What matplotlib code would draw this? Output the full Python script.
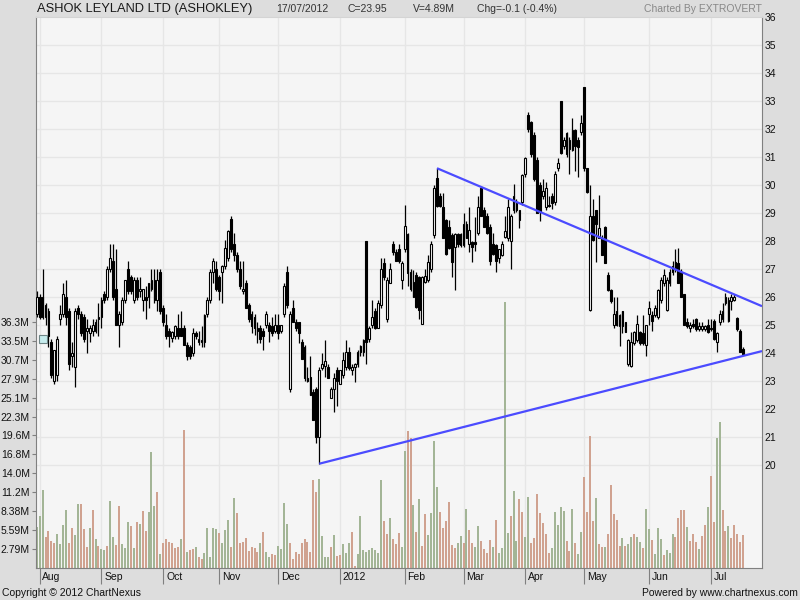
import matplotlib
matplotlib.use('Agg')
import numpy as np
import pandas as pd
import matplotlib.pyplot as plt
import matplotlib.transforms as mtrans
from matplotlib.patches import Rectangle

plt.rcParams['font.family'] = ['Liberation Sans', 'DejaVu Sans']  # arial-like look of the original

# ---- data ----
# NSE holidays inside the window, weekdays otherwise
holidays = ['2011-08-15', '2011-08-31', '2011-09-01', '2011-10-06', '2011-10-27', '2011-11-07',
            '2011-11-10', '2011-12-06', '2012-02-20', '2012-03-08', '2012-04-06', '2012-05-01']

opens = [25.4, 26.0, 26.0, 25.7, 25.5, 24.4, 23.0, 23.2, 25.2, 25.4,
         26.0, 25.5, 23.9, 23.5, 25.6, 25.4, 25.3, 24.8, 24.7, 24.8,
         25.1, 25.2, 25.3, 26.1, 26.0, 27.0, 27.3, 26.3, 25.0, 25.1,
         25.9, 27.0, 26.7, 25.9, 26.6, 26.2, 25.9, 26.0, 26.0, 26.3,
         26.6, 25.9, 26.9, 25.6, 25.0, 24.8, 24.55, 24.6, 24.9, 24.9,
         24.9, 24.3, 24.2, 24.0, 24.7, 24.4, 24.4, 24.4, 25.4, 25.9,
         26.9, 27.0, 26.7, 26.9, 27.1, 27.4, 28.8, 27.9, 27.5, 27.0,
         26.2, 26.5, 25.7, 25.4, 25.3, 24.9, 24.9, 24.8, 25.0, 25.0,
         24.95, 24.8, 25.0, 24.8, 25.4, 26.9, 22.7, 25.6, 25.1, 25.1,
         24.4, 24.2, 23.1, 23.15, 22.6, 22.7, 21.0, 23.45, 23.55, 23.5,
         22.4, 22.7, 23.4, 22.9, 23.2, 23.5, 24.05, 23.4, 23.5, 23.6,
         24.25, 24.05, 28.0, 24.5, 25.0, 25.5, 24.9, 25.7, 27.2, 25.2,
         26.5, 27.9, 27.6, 27.7, 26.6, 27.7, 28.25, 26.9, 26.55, 26.8,
         26.7, 25.05, 26.55, 26.6, 27.0, 28.2, 30.25, 29.6, 29.2, 28.75,
         28.5, 28.2, 27.8, 28.25, 28.25, 27.85, 28.6, 27.9, 27.95, 27.95,
         28.3, 29.9, 29.1, 28.9, 28.5, 27.9, 27.85, 27.4, 27.5, 28.15,
         28.1, 28.0, 29.1, 29.4, 28.75, 29.4, 30.4, 32.5, 32.25, 31.8,
         30.9, 30.0, 29.6, 29.2, 29.3, 29.6, 29.4, 30.6, 33.0, 31.4,
         31.85, 31.6, 31.25, 31.95, 31.6, 31.9, 33.5, 30.6, 25.55, 28.9,
         29.1, 28.1, 28.1, 28.5, 26.8, 26.25, 25.0, 25.5, 24.95, 25.5,
         25.1, 23.6, 23.55, 24.35, 24.45, 24.75, 24.7, 24.3, 25.4, 25.35,
         25.35, 25.3, 25.9, 26.5, 25.55, 26.5, 26.9, 27.25, 27.2, 26.9,
         26.1, 25.1, 24.9, 25.05, 25.2, 24.85, 24.85, 24.85, 25.0, 24.85,
         25.15, 24.4, 25.1, 25.2, 25.8, 25.15, 25.85, 25.9, 25.25, 24.8,
         24.15]
highs = [26.2, 26.1, 27.0, 25.8, 25.6, 24.5, 24.1, 24.6, 25.7, 26.5,
         26.6, 25.6, 24.4, 25.6, 25.7, 25.5, 25.4, 25.2, 25.0, 25.2,
         25.2, 25.8, 26.0, 26.2, 27.1, 27.9, 27.9, 27.7, 25.5, 26.0,
         26.6, 27.3, 26.8, 26.7, 26.7, 26.7, 26.3, 26.4, 26.5, 27.0,
         27.0, 27.0, 27.0, 25.7, 25.4, 24.9, 24.8, 25.0, 25.4, 25.5,
         25.0, 24.4, 24.3, 24.9, 24.8, 24.8, 24.95, 25.4, 26.0, 27.0,
         27.4, 27.3, 26.8, 27.15, 28.05, 28.4, 28.9, 28.3, 27.6, 27.3,
         27.3, 26.6, 25.8, 25.5, 25.4, 25.1, 25.0, 24.9, 25.5, 25.1,
         25.3, 25.4, 25.4, 25.0, 26.5, 27.1, 25.5, 25.9, 25.2, 25.1,
         24.5, 24.3, 23.5, 23.9, 22.7, 22.8, 23.5, 24.0, 24.45, 23.6,
         22.8, 23.3, 23.5, 23.4, 24.05, 24.45, 24.2, 23.6, 23.65, 24.1,
         24.3, 24.5, 28.0, 24.95, 25.9, 25.6, 25.9, 27.4, 27.4, 26.7,
         27.2, 28.0, 27.7, 27.9, 27.3, 29.3, 28.3, 27.0, 26.95, 26.9,
         26.75, 26.75, 27.0, 27.5, 28.0, 30.0, 30.6, 29.7, 29.7, 28.8,
         28.75, 28.3, 28.3, 28.3, 28.3, 29.0, 28.7, 29.2, 28.0, 28.85,
         29.6, 29.95, 29.2, 29.0, 28.6, 28.3, 27.9, 27.7, 28.0, 28.9,
         29.5, 28.95, 30.05, 29.5, 29.1, 30.4, 31.0, 32.6, 32.3, 31.9,
         31.0, 30.1, 30.2, 30.1, 29.6, 29.7, 30.5, 30.95, 33.0, 31.7,
         31.9, 31.7, 32.4, 32.0, 31.7, 32.5, 33.5, 30.6, 30.0, 29.5,
         29.1, 29.65, 28.2, 28.55, 26.9, 26.3, 26.0, 26.0, 25.4, 25.5,
         25.1, 24.5, 24.75, 24.8, 25.35, 24.8, 25.35, 25.0, 25.85, 25.5,
         25.7, 26.3, 26.7, 27.0, 26.7, 27.0, 27.3, 27.7, 27.75, 27.0,
         26.1, 25.25, 25.1, 25.2, 25.25, 25.1, 25.1, 25.0, 25.2, 25.2,
         25.2, 24.75, 25.55, 25.8, 26.15, 26.0, 26.1, 26.1, 25.3, 24.85,
         24.2]
lows = [25.3, 25.2, 25.2, 25.0, 24.2, 23.1, 22.9, 23.0, 25.0, 25.3,
        25.0, 23.4, 23.5, 22.8, 25.2, 24.6, 24.4, 24.0, 24.4, 24.6,
        24.7, 24.6, 24.9, 25.8, 25.9, 26.9, 25.9, 25.0, 24.2, 25.0,
        25.8, 26.1, 26.1, 25.8, 25.9, 26.0, 25.5, 25.2, 25.6, 26.2,
        25.8, 25.5, 25.4, 24.95, 24.5, 24.2, 24.4, 24.5, 24.5, 24.6,
        24.3, 23.76, 23.8, 23.9, 24.5, 24.3, 24.2, 24.2, 25.3, 25.8,
        26.5, 26.2, 25.9, 25.8, 27.0, 27.3, 27.6, 27.3, 26.9, 26.3,
        26.1, 25.6, 25.1, 24.7, 24.65, 24.35, 24.36, 24.1, 24.9, 24.4,
        24.6, 24.7, 24.5, 24.7, 25.3, 25.6, 22.6, 25.1, 24.8, 24.35,
        23.8, 23.0, 22.98, 22.5, 21.6, 20.8, 20.05, 23.4, 23.15, 23.1,
        22.4, 21.9, 22.1, 22.9, 23.1, 23.4, 23.4, 23.2, 22.95, 23.5,
        23.9, 23.9, 23.6, 24.4, 24.9, 24.85, 24.9, 25.6, 26.6, 25.1,
        26.5, 27.5, 27.3, 27.2, 26.3, 27.6, 26.4, 26.2, 26.0, 25.6,
        25.2, 25.05, 26.5, 26.55, 26.9, 28.1, 29.2, 29.2, 28.1, 27.5,
        27.7, 26.7, 26.25, 27.8, 27.8, 27.8, 28.1, 27.6, 27.25, 27.65,
        28.2, 28.9, 28.5, 28.25, 27.15, 27.5, 26.9, 27.2, 27.45, 28.1,
        28.0, 27.0, 29.0, 29.05, 28.45, 29.3, 30.3, 31.9, 31.0, 30.15,
        29.0, 28.7, 29.5, 29.1, 29.2, 29.15, 29.3, 30.5, 31.1, 31.3,
        31.0, 30.4, 31.2, 30.5, 30.3, 31.8, 30.5, 29.7, 25.5, 28.0,
        27.25, 28.1, 27.5, 27.2, 26.2, 25.8, 24.9, 24.95, 24.25, 24.7,
        24.75, 23.55, 23.5, 24.3, 24.4, 24.3, 24.3, 23.9, 25.0, 24.8,
        25.3, 25.2, 25.8, 26.4, 25.5, 26.4, 26.8, 26.9, 26.5, 26.0,
        25.0, 24.9, 24.77, 24.9, 24.8, 24.8, 24.8, 24.8, 24.7, 24.8,
        24.45, 24.05, 25.0, 25.1, 25.7, 25.1, 25.55, 25.85, 24.8, 24.05,
        23.95]
closes = [26.0, 25.3, 25.3, 25.3, 24.6, 23.2, 24.1, 24.5, 25.4, 26.1,
          25.3, 23.6, 24.0, 25.5, 25.4, 24.7, 24.5, 24.9, 24.9, 25.0,
          24.8, 25.3, 25.9, 25.9, 27.0, 27.4, 26.0, 25.0, 25.4, 25.9,
          26.6, 26.2, 26.2, 26.6, 26.0, 26.3, 26.3, 25.9, 26.5, 26.6,
          25.9, 26.6, 25.5, 25.1, 24.6, 24.6, 24.75, 24.95, 24.6, 24.6,
          24.3, 23.9, 23.9, 24.7, 24.6, 24.5, 24.45, 25.35, 25.9, 26.9,
          27.3, 26.3, 26.2, 27.1, 27.75, 28.35, 27.7, 27.5, 27.0, 26.4,
          26.3, 25.6, 25.2, 24.95, 24.9, 24.8, 24.5, 24.6, 25.4, 24.8,
          24.7, 25.0, 24.7, 25.0, 26.4, 25.7, 25.4, 25.1, 24.9, 24.7,
          23.8, 23.1, 23.0, 22.5, 21.6, 21.0, 23.4, 23.6, 23.7, 23.1,
          22.7, 23.1, 23.0, 23.4, 23.75, 24.05, 23.45, 23.5, 23.6, 24.05,
          24.05, 24.45, 24.4, 24.9, 25.3, 24.9, 25.8, 27.0, 26.7, 26.6,
          27.0, 27.6, 27.3, 27.3, 27.2, 28.55, 26.85, 26.3, 26.0, 25.65,
          25.55, 26.7, 26.75, 27.25, 27.9, 29.9, 29.25, 29.25, 28.1, 27.55,
          27.75, 27.25, 28.25, 27.9, 27.85, 28.6, 28.1, 28.4, 27.8, 27.9,
          29.2, 28.9, 28.5, 28.3, 27.3, 27.55, 27.3, 27.7, 27.9, 28.35,
          29.2, 28.9, 29.6, 29.1, 29.1, 30.35, 30.95, 32.0, 31.1, 30.2,
          29.0, 29.05, 29.8, 29.9, 29.25, 29.35, 30.4, 30.8, 31.15, 31.6,
          31.1, 31.3, 31.95, 31.4, 31.35, 32.2, 30.6, 29.75, 28.9, 28.05,
          28.6, 28.45, 27.5, 27.2, 26.25, 25.85, 25.4, 25.0, 25.35, 24.95,
          24.76, 24.45, 24.4, 24.75, 25.05, 24.35, 24.35, 25.0, 25.6, 25.15,
          25.6, 26.25, 26.6, 26.8, 26.6, 26.9, 27.1, 27.0, 26.5, 26.0,
          25.0, 24.95, 25.0, 24.95, 24.85, 24.95, 24.95, 24.95, 24.75, 24.9,
          24.5, 24.7, 25.4, 25.5, 26.0, 25.9, 26.0, 26.0, 24.85, 24.05,
          23.95]
# volume in millions of shares
volumes = [6.1, 7.6, 11.5, 4.6, 5.4, 4.0, 3.7, 5.0, 3.6, 6.3,
           8.6, 3.7, 5.9, 4.9, 9.4, 9.4, 5.8, 3.1, 5.9, 8.6,
           4.2, 3.2, 2.8, 2.7, 3.2, 9.8, 4.5, 3.4, 9.2, 3.5,
           2.9, 6.8, 6.2, 2.9, 6.8, 6.5, 8.4, 5.5, 8.3, 17.1,
           9.2, 11.2, 2.07, 3.74, 4.23, 3.89, 3.74, 2.9, 3.15, 4.33,
           20.3, 2.41, 2.66, 2.85, 3.1, 1.67, 1.38, 2.26, 5.85, 1.67,
           5.85, 5.76, 5.12, 3.74, 5.61, 7.08, 3.15, 10.3, 8.1, 3.74,
           3.89, 4.43, 2.56, 3.05, 2.9, 2.41, 3.74, 5.31, 2.41, 1.62,
           2.07, 1.97, 3.3, 2.8, 9.64, 6.49, 3.74, 1.28, 2.41, 2.07,
           3.64, 4.33, 3.84, 2.41, 13.0, 11.27, 13.1, 4.72, 1.67, 1.67,
           3.15, 4.87, 1.77, 1.97, 3.54, 2.16, 3.64, 5.31, 0.3, 2.07,
           7.68, 2.66, 2.41, 2.66, 2.95, 2.66, 2.16, 13.0, 6.99, 5.02,
           7.38, 4.33, 3.54, 5.12, 3.05, 17.2, 20.2, 19.1, 9.3, 5.36,
           10.1, 3.25, 7.97, 4.87, 8.07, 18.7, 12.0, 8.27, 5.95, 6.94,
           9.74, 3.35, 2.95, 3.74, 4.72, 3.64, 8.71, 5.61, 3.64, 3.15,
           6.2, 3.99, 2.85, 2.16, 4.13, 3.15, 7.08, 2.26, 2.9, 39.2,
           5.22, 7.68, 11.4, 3.99, 10.2, 8.27, 4.58, 10.5, 3.64, 4.38,
           10.9, 8.17, 6.69, 5.02, 2.16, 3.0, 8.27, 6.4, 9.05, 8.46,
           3.94, 2.56, 8.71, 3.64, 2.07, 5.31, 13.4, 8.31, 19.5, 6.99,
           10.3, 3.54, 3.15, 3.15, 5.02, 12.3, 7.97, 7.08, 3.25, 4.43,
           3.3, 3.49, 4.62, 5.02, 4.62, 3.89, 2.95, 8.66, 5.71, 4.13,
           2.07, 5.85, 4.23, 1.87, 2.66, 2.26, 5.02, 4.53, 7.33, 8.56,
           8.56, 6.0, 3.99, 4.97, 3.89, 2.76, 4.72, 6.35, 8.95, 13.5,
           6.79, 19.1, 21.5, 8.56, 5.46, 6.2, 4.38, 6.3, 4.97, 3.89,
           4.89]
# g = up day, r = down day, as coloured on the volume bars
day_dir = ('gggrrrrggggrrggrrrgrgrggrggrrgggrgrgrrgggr'
           'grrrrrrgrgrrgrrgggggrgggrgrrrrrrrrgrggrrgg'
           'ggrrrrrrrrrrggggrgrrgggrrgggggggggrrgrrrg'
           'grrgrgrrggggrrrrrrggrgrrggrrrrgrggggrggrrg'
           'grrrrrrrgggggrrgrggrrrrgrrgrrrrrgrggrggrg'
           'grgggrgggrrrrgrrrgrrgrrggrrgrrrrr')

vol_tick_values = [2.79, 5.59, 8.38, 11.2, 14.0, 16.8, 19.6, 22.3, 25.1, 27.9, 30.7, 33.5, 36.3]
vol_tick_labels = ['2.79M', '5.59M', '8.38M', '11.2M', '14.0M', '16.8M', '19.6M',
                   '22.3M', '25.1M', '27.9M', '30.7M', '33.5M', '36.3M']
price_ticks = list(range(20, 37))
month_labels = ['Aug', 'Sep', 'Oct', 'Nov', 'Dec', '2012', 'Feb', 'Mar', 'Apr', 'May', 'Jun', 'Jul']

# hand drawn trendlines: two anchor points each, extended to the right edge
trend_upper = (['2012-02-16', '2012-07-17'], [30.6, 25.96])
trend_lower = (['2011-12-22', '2012-07-17'], [20.05, 23.90])

header = ['17/07/2012', 'C=23.95', 'V=4.89M', 'Chg=-0.1 (-0.4%)']

BG = '#dddddd'
PANEL = '#f5f5f5'
GRID = '#e6e6e6'
UP_VOL = '#a3b596'
DN_VOL = '#d0a290'
TREND = '#4b4bff'


def trading_days() -> pd.DatetimeIndex:
    d = pd.bdate_range('2011-07-29', '2012-07-17')
    return d[~d.isin(pd.to_datetime(holidays))]


def main():
    dates = trading_days()
    n = len(dates)
    x = np.arange(n)
    o, h, l, c = map(np.asarray, (opens, highs, lows, closes))
    vol = np.asarray(volumes)

    month = dates.to_period('M')
    month_idx = [i for i in range(1, n) if month[i] != month[i - 1]]

    fig = plt.figure(figsize=(8, 6), dpi=100, facecolor=BG)
    rect = [35.5 / 800, 1 - 567.9 / 600, (762 - 35.5) / 800, (567.9 - 17) / 600]
    axv = fig.add_axes(rect, facecolor=PANEL)
    ax = fig.add_axes(rect, sharex=axv)
    ax.patch.set_visible(False)

    xlim = (-0.4, 246.4)
    axv.set_xlim(*xlim)
    axv.set_ylim(0, 81.3)
    ax.set_ylim(16.33, 36.0)

    # grid: price levels + month starts, under the volume bars
    price_tr = mtrans.blended_transform_factory(axv.transAxes, ax.transData)
    axv.hlines(price_ticks[:-1], 0, 1, transform=price_tr, color=GRID, lw=1, zorder=0)
    axv.vlines(month_idx, 0, 1, transform=axv.get_xaxis_transform(), color=GRID, lw=1, zorder=0)

    # volume
    vcol = [UP_VOL if d == 'g' else DN_VOL for d in day_dir]
    axv.bar(x, vol, width=0.68, color=vcol, linewidth=0, zorder=2)

    # candles
    ax.vlines(x, l, h, color='black', lw=0.9, zorder=3)
    body_lo = np.minimum(o, c)
    body_h = np.maximum(np.abs(c - o), 0.04)
    face = ['white' if cc >= oo else 'black' for oo, cc in zip(o, c)]
    ax.bar(x, body_h, bottom=body_lo, width=0.62, color=face, edgecolor='black',
           linewidth=0.8, zorder=4)

    # trendlines
    for tdates, tprices in (trend_upper, trend_lower):
        xi = [dates.get_loc(pd.Timestamp(d)) for d in tdates]
        slope = (tprices[1] - tprices[0]) / (xi[1] - xi[0])
        xe = np.array([xi[0], xlim[1]])
        ax.plot(xe, tprices[0] + slope * (xe - xi[0]), color=TREND, lw=1.6, zorder=5,
                solid_capstyle='butt')

    # small marker icon at the left edge
    ax.add_patch(Rectangle((0.7, 24.36), 2.9, 0.3, facecolor='#c6eced', edgecolor='#6f8586',
                           lw=0.8, zorder=6))

    # axes cosmetics
    for s in ('left', 'bottom', 'right'):
        axv.spines[s].set_color('#808080')
    axv.spines['top'].set_color('#d4d4d4')
    for s in ax.spines.values():
        s.set_visible(False)

    axv.set_yticks(vol_tick_values)
    axv.set_yticklabels(vol_tick_labels)
    axv.tick_params(axis='y', left=True, length=3, width=0.8, color='#808080', pad=1,
                    labelsize=7.5, labelcolor='#111111')
    axv.set_xticks(month_idx)
    axv.tick_params(axis='x', length=11.5, width=0.8, color='#808080', labelbottom=False)

    ax.yaxis.tick_right()
    ax.set_yticks(price_ticks)
    ax.set_yticklabels([str(p) for p in price_ticks])
    ax.tick_params(axis='y', length=0, pad=2, labelsize=7.5, labelcolor='#111111')
    ax.tick_params(axis='x', bottom=False, labelbottom=False)

    lab_tr = mtrans.offset_copy(axv.get_xaxis_transform(), fig=fig, x=2, y=-3, units='points')
    for i, m in zip(month_idx, month_labels):
        axv.text(i, 0, m, transform=lab_tr, ha='left', va='top', fontsize=7.5, color='#111111')

    # header / footer texts
    fig.text(37 / 800, 1 - 9 / 600, 'ASHOK LEYLAND LTD (ASHOKLEY)', fontsize=9.3,
             color='#1a1a1a', va='center', ha='left')
    for xp, t in zip([276, 348, 413, 477], header):
        fig.text(xp / 800, 1 - 9 / 600, t, fontsize=7.5, color='#333333', va='center', ha='left')
    fig.text(762 / 800, 1 - 9 / 600, 'Charted By EXTROVERT', fontsize=7.5, color='#888888',
             va='center', ha='right')
    fig.text(2 / 800, 1 - 593 / 600, 'Copyright \u00a9 2012 ChartNexus', fontsize=7.5,
             color='#111111', va='center', ha='left')
    fig.text(798 / 800, 1 - 593 / 600, 'Powered by www.chartnexus.com', fontsize=7.5,
             color='#111111', va='center', ha='right')

    fig.savefig('out.png', dpi=100, facecolor=BG)


if __name__ == '__main__':
    main()
